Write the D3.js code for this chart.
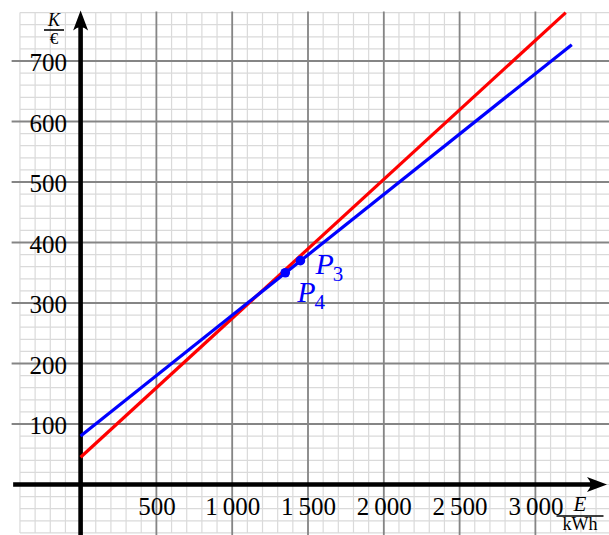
<!DOCTYPE html>
<html><head><meta charset="utf-8">
<script src="https://cdn.jsdelivr.net/npm/d3@7"></script>
<style>body{margin:0;background:#fff}svg{display:block}</style>
</head><body>
<script>
// ---- data ----
const xTickValues = [500, 1000, 1500, 2000, 2500, 3000];
const xTickLabels = ["500", "1\u2009000", "1\u2009500", "2\u2009000", "2\u2009500", "3\u2009000"];
const yTickValues = [100, 200, 300, 400, 500, 600, 700];
const yTickLabels = ["100", "200", "300", "400", "500", "600", "700"];
const redLineE = [0, 3200];
const redLineK = [45, 780];
const blueLineE = [0, 3240];
const blueLineK = [80, 727];
const pointNames = ["3", "4"];
const pointE = [1450, 1350];
const pointK = [370, 350];

const W = 609, H = 535;
const x = d3.scaleLinear().domain([0, 3000]).range([80.6, 535.4]);
const y = d3.scaleLinear().domain([0, 700]).range([484.5, 61]);

const svg = d3.select("body").append("svg").attr("width", W).attr("height", H);
const font = "'Liberation Serif', 'Times New Roman', serif";

// minor grid
const g = svg.append("g");
g.selectAll(".mv").data(d3.range(-400, 3401, 100)).join("line")
  .attr("x1", d => x(d)).attr("x2", d => x(d)).attr("y1", y(-80)).attr("y2", y(780))
  .attr("stroke", "#dadada").attr("stroke-width", 1.2);
g.selectAll(".mh").data(d3.range(-80, 781, 20)).join("line")
  .attr("x1", x(-400)).attr("x2", W).attr("y1", d => y(d)).attr("y2", d => y(d))
  .attr("stroke", "#dadada").attr("stroke-width", 1.2);
// major grid
g.selectAll(".Mv").data(xTickValues).join("line")
  .attr("x1", d => x(d)).attr("x2", d => x(d)).attr("y1", H).attr("y2", y(780) - 1)
  .attr("stroke", "#858585").attr("stroke-width", 1.8);
g.selectAll(".Mh").data(yTickValues).join("line")
  .attr("x1", x(-455)).attr("x2", W).attr("y1", d => y(d)).attr("y2", d => y(d))
  .attr("stroke", "#858585").attr("stroke-width", 1.8);

// tick labels via d3 axes
const xAxis = svg.append("g").attr("transform", `translate(0,${y(0)})`)
  .call(d3.axisBottom(x).tickValues(xTickValues).tickSize(0)
    .tickFormat((d, i) => xTickLabels[i]));
xAxis.select(".domain").remove();
xAxis.selectAll("text").attr("y", 30.5).attr("dy", null)
  .attr("font-family", font).attr("font-size", 25).attr("fill", "#000");

const yAxis = svg.append("g").attr("transform", `translate(67,0)`)
  .call(d3.axisLeft(y).tickValues(yTickValues).tickSize(0)
    .tickFormat((d, i) => yTickLabels[i]));
yAxis.select(".domain").remove();
yAxis.selectAll("text").attr("x", 0).attr("dy", null).attr("y", 9.5)
  .attr("text-anchor", "end")
  .attr("font-family", font).attr("font-size", 25).attr("fill", "#000");

// axes lines
svg.append("line").attr("x1", x(-445)).attr("x2", 598).attr("y1", y(0)).attr("y2", y(0))
  .attr("stroke", "#000").attr("stroke-width", 4.3);
svg.append("line").attr("x1", x(0)).attr("x2", x(0)).attr("y1", H).attr("y2", 22)
  .attr("stroke", "#000").attr("stroke-width", 4.6);
// arrowheads
const arrowPath = "M0,0 L-7.5,20 Q0,13 7.5,20 Z"; // pointing up, tip at origin
svg.append("path").attr("d", arrowPath).attr("fill", "#000")
  .attr("transform", `translate(${x(0)},10.5)`);
svg.append("path").attr("d", arrowPath).attr("fill", "#000")
  .attr("transform", `translate(607,${y(0)}) rotate(90)`);

// lines
const line = d3.line().x(d => x(d[0])).y(d => y(d[1]));
svg.append("path").datum(redLineE.map((e, i) => [e, redLineK[i]]))
  .attr("d", line).attr("stroke", "#ff0000").attr("stroke-width", 3.2).attr("fill", "none");
svg.append("path").datum(blueLineE.map((e, i) => [e, blueLineK[i]]))
  .attr("d", line).attr("stroke", "#0000ff").attr("stroke-width", 3.2).attr("fill", "none");

// points
svg.selectAll(".pt").data(pointE.map((e, i) => ({e, k: pointK[i], n: pointNames[i]}))).join("circle")
  .attr("cx", d => x(d.e)).attr("cy", d => y(d.k)).attr("r", 4.8).attr("fill", "#0000ff");

// point labels
const labOff = {"3": [15, 13], "4": [12, 29]};
svg.selectAll(".pl").data(pointE.map((e, i) => ({e, k: pointK[i], n: pointNames[i]}))).join("text")
  .attr("x", d => x(d.e) + labOff[d.n][0]).attr("y", d => y(d.k) + labOff[d.n][1])
  .attr("font-family", font).attr("fill", "#0000ff").attr("font-size", 30)
  .each(function(d) {
    const t = d3.select(this);
    t.append("tspan").attr("font-style", "italic").text("P");
    t.append("tspan").attr("font-size", 21).attr("dx", -1).attr("dy", 7).text(d.n);
  });

// axis unit labels
function frac(cx, cy, num, den, lw, nfs, ndy, dfs, ddy) {
  svg.append("text").attr("x", cx).attr("y", cy + ndy).attr("text-anchor", "middle")
    .attr("font-family", font).attr("font-style", "italic").attr("font-size", nfs).text(num);
  svg.append("line").attr("x1", cx - lw / 2).attr("x2", cx + lw / 2).attr("y1", cy).attr("y2", cy)
    .attr("stroke", "#000").attr("stroke-width", 1.6);
  svg.append("text").attr("x", cx).attr("y", cy + ddy).attr("text-anchor", "middle")
    .attr("font-family", font).attr("font-size", dfs).text(den);
}
frac(54, 30, "K", "€", 20, 18, -4, 17, 14);
frac(580, 516, "E", "kWh", 47, 21, -5, 18, 14);
</script>
</body></html>
